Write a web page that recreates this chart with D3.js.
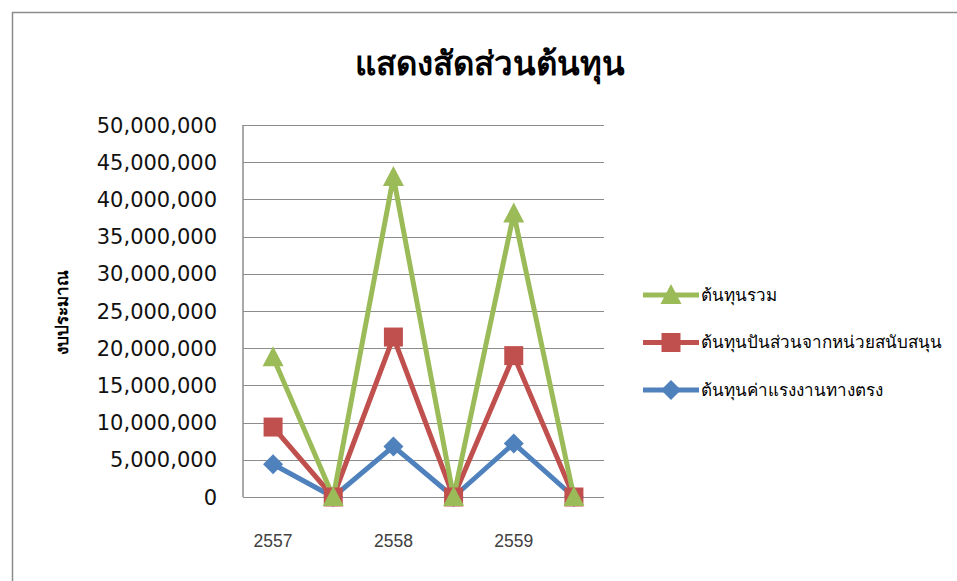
<!DOCTYPE html>
<html>
<head>
    <meta charset="utf-8">
    <title>แสดงสัดส่วนต้นทุน</title>
    <script src="https://d3js.org/d3.v7.min.js"></script>
    <style>
        body { margin: 0; padding: 0; background: #fff; }
        svg { font-family: "Liberation Sans", Arial, sans-serif; }
        .grid line { stroke: #8c8c8c; shape-rendering: crispEdges; }
        .grid path { stroke-width: 0; }
    </style>
</head>
<body>
    <svg id="svg" width="957" height="581"></svg>

    <script>
        // Data.
        const categories = ["2557", "", "2558", "", "2559", ""];
        const totalCost = [18800000, 0, 43000000, 0, 38100000, 0];
        const sharedCost = [9400000, 0, 21500000, 0, 19000000, 0];
        const laborCost = [4400000, 0, 6800000, 0, 7200000, 0];
        const yTicks = [0, 5000000, 10000000, 15000000, 20000000, 25000000, 30000000, 35000000, 40000000, 45000000, 50000000];

        const series = [
            { name: "ต้นทุนค่าแรงงานทางตรง", values: laborCost, color: "#4F81BD", marker: "diamond" },
            { name: "ต้นทุนปันส่วนจากหน่วยสนับสนุน", values: sharedCost, color: "#C0504D", marker: "square" },
            { name: "ต้นทุนรวม", values: totalCost, color: "#9BBB59", marker: "triangle" }
        ];

        const svg = d3.select("svg");
        const margin = { top: 125, left: 243 };
        const width = 361, height = 372;

        // Chart border.
        svg.append("rect")
            .attr("x", 12.5).attr("y", 12.5)
            .attr("width", 1000).attr("height", 1000)
            .attr("fill", "none").attr("stroke", "#8c8c8c").attr("stroke-width", 1.5);

        // Title.
        svg.append("text")
            .attr("x", 490).attr("y", 75)
            .attr("text-anchor", "middle")
            .attr("font-size", 33).attr("font-weight", "bold")
            .attr("fill", "#000")
            .text("แสดงสัดส่วนต้นทุน");

        const x = d3.scalePoint().domain(d3.range(categories.length)).range([0, width]).padding(0.5);
        const y = d3.scaleLinear().domain([0, 50000000]).range([height, 0]);

        const g = svg.append("g").attr("transform", `translate(${margin.left},${margin.top})`);

        // Gridlines.
        g.append("g")
            .attr("class", "grid")
            .call(d3.axisLeft(y).tickValues(yTicks).tickSize(-width).tickFormat(""));

        // Y axis line and labels.
        g.append("line")
            .attr("x1", 0).attr("x2", 0).attr("y1", 0).attr("y2", height)
            .attr("stroke", "#8c8c8c").attr("stroke-width", 1.5);

        g.selectAll(".ylab")
            .data(yTicks)
            .enter().append("text")
            .attr("class", "ylab")
            .attr("x", -26).attr("y", d => y(d))
            .attr("dy", "0.36em")
            .attr("text-anchor", "end")
            .attr("font-family", "'DejaVu Sans', sans-serif")
            .attr("font-size", 21)
            .attr("fill", "#111")
            .text(d => d3.format(",")(d));

        // X labels.
        g.selectAll(".xlab")
            .data(categories)
            .enter().append("text")
            .attr("class", "xlab")
            .attr("x", (d, i) => x(i)).attr("y", height + 50)
            .attr("text-anchor", "middle")
            .attr("font-size", 17.5)
            .attr("fill", "#404040")
            .text(d => d);

        // Y axis title.
        svg.append("text")
            .attr("transform", "translate(68,312) rotate(-90)")
            .attr("text-anchor", "middle")
            .attr("font-size", 17).attr("font-weight", "bold")
            .attr("fill", "#000")
            .text("งบประมาณ");

        const markerPath = {
            diamond: "M0,-10L10,0L0,10L-10,0Z",
            square: "M-9.5,-9.5H9.5V9.5H-9.5Z",
            triangle: "M0,-11L10.5,9L-10.5,9Z"
        };

        const line = d3.line().x((d, i) => x(i)).y(d => y(d));

        series.forEach(s => {
            g.append("path")
                .datum(s.values)
                .attr("fill", "none")
                .attr("stroke", s.color)
                .attr("stroke-width", 5)
                .attr("stroke-linejoin", "round")
                .attr("d", line);
        });
        series.forEach(s => {
            g.selectAll(null)
                .data(s.values)
                .enter().append("path")
                .attr("transform", (d, i) => `translate(${x(i)},${y(d)})`)
                .attr("d", markerPath[s.marker])
                .attr("fill", s.color);
        });

        // Legend (reverse order).
        const legend = svg.append("g").attr("transform", "translate(643,295)");
        series.slice().reverse().forEach((s, i) => {
            const row = legend.append("g").attr("transform", `translate(0,${i * 47.5})`);
            row.append("line")
                .attr("x1", 0).attr("x2", 56)
                .attr("stroke", s.color).attr("stroke-width", 5);
            row.append("path")
                .attr("transform", "translate(28,0)")
                .attr("d", markerPath[s.marker])
                .attr("fill", s.color);
            row.append("text")
                .attr("x", 58).attr("dy", "0.35em")
                .attr("font-size", 17)
                .attr("fill", "#000")
                .text(s.name);
        });
    </script>
</body>
</html>
